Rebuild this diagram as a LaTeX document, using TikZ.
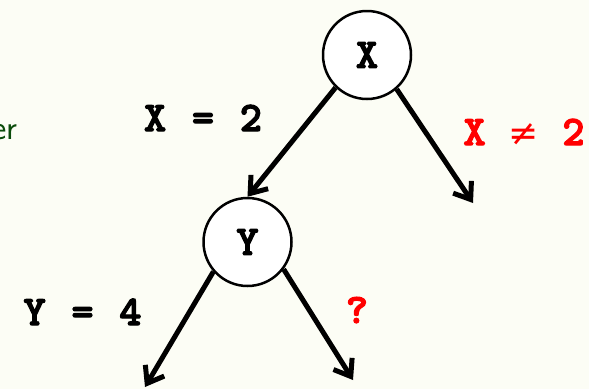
\documentclass[tikz,border=0pt]{standalone}
\usepackage{fontspec}
\setmainfont{Liberation Sans}
\newfontfamily\courb{lmmonolt10-bold.otf}[LetterSpace=9, FakeBold=3]
\newfontfamily\symbfont{DejaVu Sans}
\usetikzlibrary{arrows.meta}
\definecolor{bgcream}{RGB}{252,253,245}
\definecolor{dgreen}{RGB}{10,75,10}
\definecolor{lred}{RGB}{255,0,0}
\newcommand{\neqsym}{\makebox[0.6em]{\symbfont\fontsize{36}{36}\selectfont ≠}}
\tikzset{
  treenode/.style={circle, draw=black, line width=2.5pt, fill=white, minimum size=88pt, inner sep=0pt,
    font=\fontsize{42}{42}\selectfont\courb},
  branch/.style={line width=5pt, -{Straight Barb[length=15pt,width=22pt]}},
  cond/.style={anchor=base, inner sep=0pt, font=\fontsize{42}{42}\selectfont\courb},
  side/.style={anchor=base east, inner sep=0pt, text=dgreen, font=\fontsize{34}{34}\selectfont\sffamily}
}
\begin{document}
\begin{tikzpicture}[x=1pt,y=-1pt]
\fill[bgcream] (0,0) rectangle (589,389);
\useasboundingbox (0,0) rectangle (589,389);
\clip (0,0) rectangle (589,389);
\node[treenode] (X) at (367,55) {X};
\node[treenode] (Y) at (247.5,242) {Y};
\coordinate (t2) at (473,203);
\coordinate (t3) at (145,387);
\coordinate (t4) at (353,380);
\draw[branch] (X.226) -- (Y.north);
\draw[branch] (X.-49) -- (t2);
\draw[branch] (Y.221) -- (t3);
\draw[branch] (Y.-37) -- (t4);
\node[cond] (c1) at (203,131) {X = 2};
\node[cond, text=lred] (c2) at (524,145) {X \neqsym{} 2};
\node[cond] (c3) at (82.5,325) {Y = 4};
\node[cond, text=lred] (c4) at (357,323) {?};
\node[side] (s1) at (18,139) {er};
\node[side] (s2) at (3.5,390) {d};
\end{tikzpicture}
\end{document}
